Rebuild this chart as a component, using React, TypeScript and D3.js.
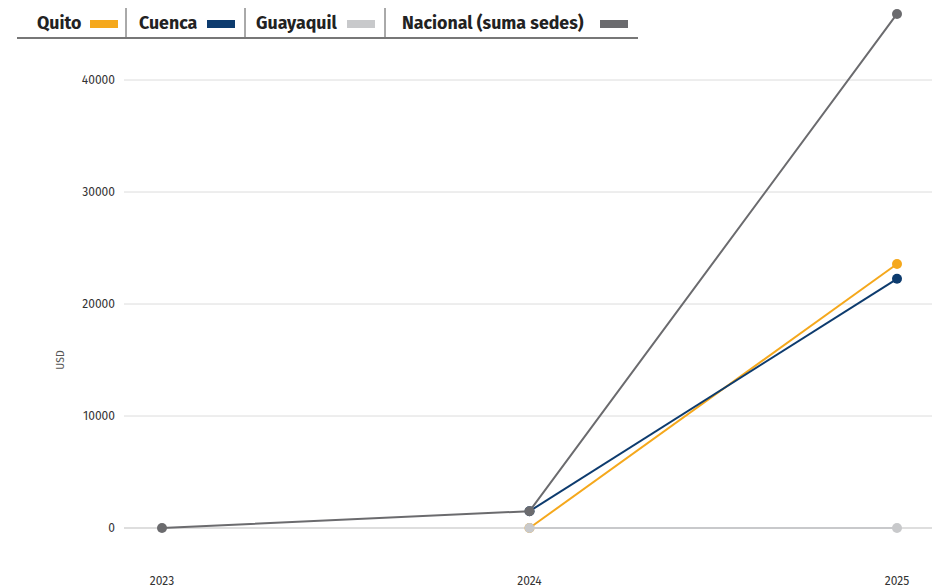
import React from "react";
import * as d3 from "d3";

const years = ["2023", "2024", "2025"];
const quito: (number | null)[] = [null, 0, 23570];
const cuenca: (number | null)[] = [null, 1500, 22250];
const guayaquil: (number | null)[] = [null, 0, 0];
const nacional: (number | null)[] = [0, 1500, 45900];
const yTicks = [0, 10000, 20000, 30000, 40000];

const series = [
  { name: "Quito", values: quito, color: "#f5a81c" },
  { name: "Cuenca", values: cuenca, color: "#0d3b6e" },
  { name: "Guayaquil", values: guayaquil, color: "#c8c9cb" },
  { name: "Nacional (suma sedes)", values: nacional, color: "#6b6b6e" },
];

const legendX = [37, 139, 256, 402];
const swatchX = [90, 207, 347, 600];
const sepX = [126, 245, 385];

export default function App() {
  const W = 936, H = 587;
  const x = d3.scalePoint<string>().domain(years).range([162, 897]);
  const y = d3.scaleLinear().domain([0, 40000]).range([528, 80]);
  const font = "'Fira Sans', 'Open Sans', 'Noto Sans', sans-serif";
  return (
    <svg width={W} height={H} style={{ position: "absolute", left: 0, top: 0 }} fontFamily={font}>
      {yTicks.map((t) => (
        <g key={t}>
          <line x1={124} x2={932} y1={y(t)} y2={y(t)} stroke={t === 0 ? "#bdbdbd" : "#dcdcdc"} strokeWidth={1} />
          <text x={115} y={y(t)} dy="0.35em" textAnchor="end" fontSize={12} fill="#333">{t}</text>
        </g>
      ))}
      {years.map((yr) => (
        <text key={yr} x={x(yr)} y={585} textAnchor="middle" fontSize={12} fill="#333">{yr}</text>
      ))}
      <text transform="translate(64,360) rotate(-90)" textAnchor="middle" fontSize={10.5} fill="#555">USD</text>
      {series.map((s) => {
        const line = d3
          .line<number | null>()
          .defined((d) => d !== null)
          .x((_, i) => x(years[i])!)
          .y((d) => y(d as number));
        return (
          <g key={s.name}>
            <path d={line(s.values) || ""} fill="none" stroke={s.color} strokeWidth={2} />
            {s.values.map((v, i) =>
              v === null ? null : <circle key={i} cx={x(years[i])} cy={y(v)} r={5} fill={s.color} />
            )}
          </g>
        );
      })}
      {series.map((s, i) => (
        <g key={"lg" + s.name}>
          <text x={legendX[i]} y={29} fontSize={17.8} fontWeight={700} fill="#222">{s.name}</text>
          <rect x={swatchX[i]} y={20} width={28} height={8} fill={s.color} />
        </g>
      ))}
      {sepX.map((sx) => (
        <line key={sx} x1={sx} x2={sx} y1={8} y2={38} stroke="#555" strokeWidth={1} />
      ))}
      <line x1={17} x2={638} y1={38} y2={38} stroke="#777" strokeWidth={2} />
    </svg>
  );
}
